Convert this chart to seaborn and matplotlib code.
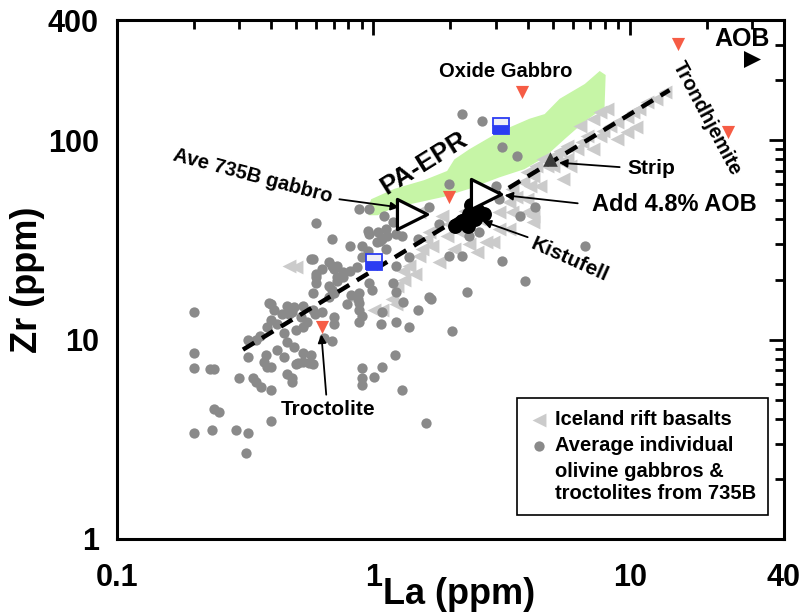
import matplotlib
matplotlib.use("Agg")
import matplotlib.pyplot as plt
import numpy as np
import pandas as pd
import seaborn as sns
from matplotlib.lines import Line2D
from matplotlib.ticker import FixedLocator, FixedFormatter, NullFormatter

# --- data (La, Zr in ppm) ---
gabbro_la = [0.20, 0.20, 0.20, 0.23, 0.24, 0.24, 0.25, 0.20, 0.235, 0.29, 0.325, 0.32, 0.40,
             0.30, 0.325, 0.325, 0.35, 0.34, 0.35, 0.365, 0.40, 0.38, 0.385, 0.40, 0.375, 0.42,
             0.45, 0.46, 0.48, 0.46, 0.49, 0.50, 0.53, 0.57, 0.58, 0.40, 0.46, 0.49, 0.47, 0.52,
             0.42, 0.385, 0.40, 0.45, 0.50, 0.53, 0.55, 0.59, 0.58, 0.36, 0.39, 0.60, 0.63, 0.58,
             0.67, 0.72, 0.88, 0.88, 0.90, 0.90, 0.90, 1.01, 1.08, 1.19, 1.29, 1.38, 1.49, 1.65,
             1.61, 2.02, 0.96, 0.48, 0.51, 0.56, 0.53, 0.69, 0.70, 0.64, 0.70, 0.79, 0.82, 0.87,
             0.67, 0.72, 0.76, 0.88, 0.60, 0.95, 1.04, 1.12, 1.23, 0.69, 0.81, 0.90, 0.57, 0.69,
             0.70, 0.60, 0.60, 0.72, 0.76, 0.81, 0.86, 0.90, 0.95, 1.03, 1.08, 0.69, 0.70, 0.67,
             0.99, 0.88, 0.88, 0.90, 0.41, 0.44, 0.48, 0.53, 0.58, 0.63, 1.23, 1.23, 1.12, 0.96,
             1.10, 0.96, 1.13, 1.06, 1.29, 2.21, 2.66, 3.19, 3.65, 1.98, 1.19, 1.65, 1.81, 1.49,
             3.02, 3.10, 2.37, 2.59, 4.26, 3.72, 6.68, 3.89, 3.19, 1.98, 2.21, 2.31, 1.68, 1.38,
             1.30, 1.23, 1.21, 1.08, 1.07]
gabbro_zr = [13.8, 8.6, 7.2, 7.1, 7.1, 4.5, 4.35, 3.4, 3.5, 3.5, 3.4, 2.7, 3.9,
             6.45, 8.2, 10.0, 10.0, 6.45, 6.1, 5.8, 5.6, 8.4, 7.3, 7.3, 7.7, 8.9,
             8.2, 6.7, 6.45, 9.7, 9.2, 7.5, 7.7, 8.4, 7.5, 15.0, 14.7, 14.5, 13.4, 12.9,
             11.9, 11.6, 12.6, 10.8, 11.2, 11.6, 12.3, 13.4, 17.2, 10.4, 15.3, 21.2, 22.5, 25.2,
             24.4, 23.3, 17.2, 12.2, 7.2, 6.45, 5.9, 6.5, 7.3, 19.3, 5.6, 11.6, 14.1, 16.3,
             3.83, 11.0, 19.3, 6.1, 7.6, 7.6, 8.6, 9.8, 11.9, 10.2, 12.9, 15.0, 16.8, 15.9,
             18.5, 19.6, 20.5, 45.0, 38.3, 34.9, 34.5, 35.7, 33.7, 31.8, 29.3, 29.3, 25.2, 23.3,
             22.5, 20.5, 19.3, 20.7, 21.7, 22.0, 23.0, 25.8, 27.7, 30.7, 31.8, 17.8, 17.2, 16.4,
             17.8, 15.3, 14.1, 13.1, 14.1, 13.4, 13.8, 14.7, 14.1, 13.8, 23.3, 17.4, 28.3, 45.0,
             41.5, 33.7, 32.9, 31.1, 32.9, 135, 124, 92, 83, 60, 38.7, 46, 37.8, 31.8,
             59, 50.5, 32.9, 34.5, 46, 41.5, 29.3, 19.6, 24.7, 26.1, 26.1, 17.4, 15.9, 25.8,
             15.5, 12.2, 8.4, 13.7, 11.9]

iceland_la = [0.47, 0.50, 0.84, 1.01, 1.08, 1.18, 1.23, 1.32, 1.24, 1.38, 1.55, 1.70, 1.65,
              1.51, 1.86, 2.17, 2.59, 3.10, 2.76, 2.53, 3.39, 4.18, 3.96, 4.46, 4.74, 5.18,
              5.47, 1.61, 1.93, 1.81, 1.51, 2.92, 3.49, 3.61, 3.39, 4.07, 3.96, 4.18, 3.49,
              3.96, 3.82, 4.33, 4.18, 4.58, 5.0, 5.33, 5.67, 5.0, 5.67, 5.83, 6.21, 6.50,
              6.79, 6.38, 7.17, 7.64, 8.13, 7.85, 8.36, 8.90, 9.73, 10.3, 10.9, 11.7, 12.7,
              13.7, 8.90, 9.73, 10.6, 7.64, 7.17, 1.98, 2.27, 2.37, 2.07, 3.10, 1.30, 1.45]
iceland_zr = [23.3, 23.0, 15.9, 14.1, 14.1, 15.9, 15.0, 20.0, 18.5, 23.3, 28.3, 29.3, 34.5,
              43.5, 41.5, 34.5, 40.1, 43.5, 30.7, 27.4, 35.7, 41.5, 50.5, 59, 74, 80,
              64, 31.8, 32.9, 24.4, 26.1, 30.7, 57, 52, 48.8, 59, 43.5, 38.7, 43.5,
              69, 61.5, 74, 66, 80, 83, 88, 93, 74, 80, 74, 90, 98,
              105, 118, 128, 138, 143, 111, 118, 123, 131, 138, 143, 155, 161,
              174, 101, 110, 116, 105, 90, 37.8, 44, 30.0, 28.3, 35.7, 22.0, 21.2]

epr_la = [0.95, 0.98, 1.21, 1.58, 1.94, 2.07, 2.37, 3.10, 4.07, 4.66, 5.33, 6.68, 7.64,
          8.06, 7.98, 6.68, 5.57, 4.66, 3.89, 3.10, 2.37, 1.89, 1.51, 1.21, 1.04, 0.96]
epr_zr = [45, 50.5, 57, 63, 70, 80, 90, 110, 128, 135, 161, 191, 222,
          212, 146, 124, 101, 82, 71.5, 65, 57, 52, 48.8, 46, 42, 42]

trend_la = [0.31, 14.3]
trend_zr = [8.9, 178]

other_la = [3.8, 15.4, 24.1, 1.98, 0.63]       # oxide gabbro, trondhjemite, troctolite
other_zr = [174, 304, 110, 52, 11.5]
pillow_la = [3.16, 1.01]
pillow_zr = [118, 24.4]
ave_la = [1.41, 2.76]                          # ave 735B gabbro, + 4.8% AOB
ave_zr = [42.5, 53.6]
kist_la = [2.21, 2.37, 2.55, 2.71, 2.33, 2.50, 2.09, 2.41]
kist_zr = [39.2, 42.5, 44.0, 42.5, 37.3, 40.1, 37.3, 47.0]
strip_la, strip_zr = [4.87], [80]
aob_la, aob_zr = [30], [255]

sns.set_theme(style="white")
plt.rcParams.update({
    "font.family": ["Liberation Sans", "DejaVu Sans"],
    "font.weight": "bold",
    "axes.labelweight": "bold",
    "text.color": "black",
    "axes.labelcolor": "black",
    "xtick.color": "black",
    "ytick.color": "black",
})

fig = plt.figure(figsize=(8.06, 6.14), dpi=100)
ax = fig.add_axes([117 / 806, 75 / 614, 667 / 806, 519 / 614])
ax.set_xscale("log")
ax.set_yscale("log")

ax.fill(epr_la, epr_zr, color="#c6f5a6", lw=0, zorder=1)

sns.scatterplot(x=iceland_la, y=iceland_zr, marker="<", s=100, color="#cbcbcb",
                linewidth=0, label="Iceland rift basalts", ax=ax, zorder=2)
sns.scatterplot(x=gabbro_la, y=gabbro_zr, marker="o", s=55, color="#8a8a8a",
                linewidth=0, label="Average individual", ax=ax, zorder=3)

ax.plot(trend_la, trend_zr, color="black", lw=3.2, dashes=(3, 2), zorder=4)

sns.scatterplot(x=other_la, y=other_zr, marker="v", s=90, color="#f65c45",
                linewidth=0, ax=ax, zorder=5, legend=False)
ax.plot(pillow_la, pillow_zr, ls="none", marker="s", ms=11, fillstyle="bottom",
        markerfacecolor="#2b3cf2", markerfacecoloralt="#eeeef6",
        markeredgecolor="#2b3cf2", markeredgewidth=1.3, zorder=5)
sns.scatterplot(x=kist_la, y=kist_zr, marker="o", s=115, color="black",
                linewidth=0, ax=ax, zorder=5, legend=False)
sns.scatterplot(x=strip_la, y=strip_zr, marker="^", s=110, color="#3c3c3c",
                linewidth=0, ax=ax, zorder=5, legend=False)
sns.scatterplot(x=aob_la, y=aob_zr, marker=">", s=150, color="black",
                linewidth=0, ax=ax, zorder=5, legend=False)
sns.scatterplot(x=ave_la, y=ave_zr, marker=">", s=470, color="white",
                edgecolor="black", linewidth=2.3, ax=ax, zorder=6, legend=False)

# labels and arrows
txt = dict(fontweight="bold", ha="center", va="center", color="black", zorder=7)
ax.text(0.337, 66, "Ave 735B gabbro", fontsize=14.5, rotation=-15, **txt)
ax.text(1.57, 76.6, "PA-EPR", fontsize=19, rotation=32, **txt)
ax.text(3.28, 222, "Oxide Gabbro", fontsize=14.5, **txt)
ax.text(27.4, 322, "AOB", fontsize=18, **txt)
ax.text(20.0, 128, "Trondhjemite", fontsize=14.5, rotation=-62, **txt)
ax.text(12.2, 72.3, "Strip", fontsize=15, **txt)
ax.text(15.0, 47.7, "Add 4.8% AOB", fontsize=17, **txt)
ax.text(5.83, 25.2, "Kistufell", fontsize=15, rotation=-24, **txt)
ax.text(0.667, 4.45, "Troctolite", fontsize=15, **txt)

arrow = dict(arrowstyle="-|>", color="black", lw=1.3, mutation_scale=12, shrinkA=0, shrinkB=0)
for head, tail in [((1.26, 46), (0.737, 50.5)),
                   ((5.3, 77), (9.14, 73.2)),
                   ((3.25, 52.9), (6.27, 48.2)),
                   ((2.67, 39.2), (4.0, 32.6)),
                   ((0.627, 10.6), (0.655, 5.29))]:
    ax.annotate("", xy=head, xytext=tail, arrowprops=arrow, zorder=7)

# axes
ax.set_xlim(0.1, 40)
ax.set_ylim(1, 400)
ax.xaxis.set_major_locator(FixedLocator([0.1, 1, 10, 40]))
ax.xaxis.set_major_formatter(FixedFormatter(["0.1", "1", "10", "40"]))
ax.xaxis.set_minor_locator(FixedLocator([0.2, 0.3, 0.4, 0.5, 0.6, 0.7, 0.8, 0.9,
                                         2, 3, 4, 5, 6, 7, 8, 9, 20, 30]))
ax.yaxis.set_major_locator(FixedLocator([1, 10, 100, 400]))
ax.yaxis.set_major_formatter(FixedFormatter(["1", "10", "100", "400"]))
ax.yaxis.set_minor_locator(FixedLocator([2, 3, 4, 5, 6, 7, 8, 9,
                                         20, 30, 40, 50, 60, 70, 80, 90, 200, 300]))
ax.xaxis.set_minor_formatter(NullFormatter())
ax.yaxis.set_minor_formatter(NullFormatter())
ax.tick_params(which="both", direction="in", top=True, right=True, width=2,
               color="black", labelsize=22, labelcolor="black")
ax.tick_params(which="major", length=11)
ax.tick_params(which="minor", length=6.5)
ax.tick_params(axis="x", pad=17)
ax.tick_params(axis="y", pad=13)
for lab in ax.get_xticklabels() + ax.get_yticklabels():
    lab.set_fontweight("bold")
for sp in ax.spines.values():
    sp.set_linewidth(2.2)
    sp.set_color("black")

ax.set_xlabel("La (ppm)", fontsize=26, fontweight="bold")
ax.xaxis.set_label_coords(0.513, -0.074, transform=ax.transAxes)
ax.xaxis.label.set_va("top")
ax.set_ylabel("Zr (ppm)", fontsize=26, fontweight="bold", labelpad=2)

handles, labels = ax.get_legend_handles_labels()
blank = Line2D([], [], linestyle="none", marker="none")
leg = ax.legend(handles[:2] + [blank],
                ["Iceland rift basalts", "Average individual",
                 "olivine gabbros &\ntroctolites from 735B"],
                loc="lower right", bbox_to_anchor=(0.976, 0.046), borderaxespad=0,
                frameon=True, fancybox=False, edgecolor="black", framealpha=1,
                prop={"size": 14.5, "weight": "bold"}, handlelength=1.0,
                handletextpad=0.3, borderpad=0.6, labelspacing=0.35)
leg.get_frame().set_linewidth(1.2)
leg.set_zorder(8)

fig.savefig("out.png", dpi=100, facecolor="white")
